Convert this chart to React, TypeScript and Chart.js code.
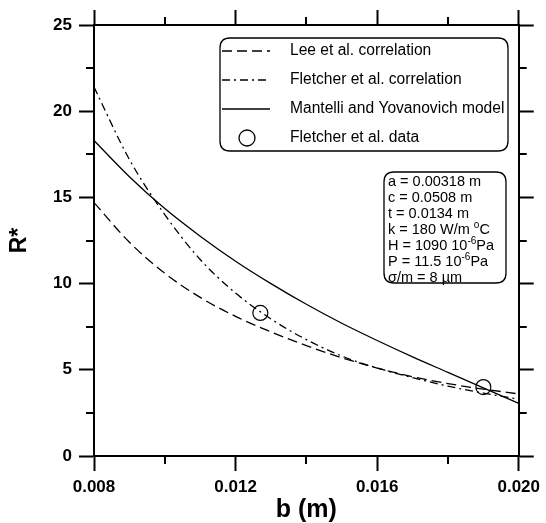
import { useEffect, useRef } from 'react';
import { Chart, registerables } from 'chart.js';

Chart.register(...registerables);

// ---- data ----
const bValues = [0.008, 0.009, 0.010, 0.011, 0.012, 0.013, 0.014, 0.015, 0.016, 0.017, 0.018, 0.019, 0.020];
const leeValues = [14.7, 12.4, 10.6, 9.2, 8.1, 7.2, 6.4, 5.7, 5.1, 4.6, 4.2, 3.88, 3.6];
const fletcherCorrValues = [21.4, 17.2, 14.0, 11.4, 9.45, 7.95, 6.75, 5.8, 5.1, 4.55, 4.05, 3.65, 3.3];
const mantelliValues = [18.3, 16.2, 14.35, 12.75, 11.3, 10.0, 8.8, 7.7, 6.7, 5.75, 4.85, 3.95, 3.05];
const fletcherDataB = [0.0127, 0.0190];
const fletcherDataR = [8.3, 4.0];

const xMajorTicks = [0.008, 0.012, 0.016, 0.020];
const xMinorTicks = [0.010, 0.014, 0.018];
const yMajorTicks = [0, 5, 10, 15, 20, 25];
const yMinorTicks = [2.5, 7.5, 12.5, 17.5, 22.5];

const legendLabels = [
  'Lee et al. correlation',
  'Fletcher et al. correlation',
  'Mantelli and Yovanovich model',
  'Fletcher et al. data',
];

type Seg = { t: string; sup?: boolean };
const infoLines: Seg[][] = [
  [{ t: 'a = 0.00318 m' }],
  [{ t: 'c = 0.0508 m' }],
  [{ t: 't = 0.0134 m' }],
  [{ t: 'k = 180 W/m ' }, { t: 'o', sup: true }, { t: 'C' }],
  [{ t: 'H = 1090 10' }, { t: '-6', sup: true }, { t: 'Pa' }],
  [{ t: 'P = 11.5 10' }, { t: '-6', sup: true }, { t: 'Pa' }],
  [{ t: 'σ/m = 8 µm' }],
];

const FAMILY = "'Liberation Sans', Arial, Helvetica, sans-serif";
const DASH_LEE = [10, 5];
const DASH_FLETCHER = [8, 4, 2, 4];

function roundRect(ctx: CanvasRenderingContext2D, x: number, y: number, w: number, h: number, r: number) {
  ctx.beginPath();
  ctx.moveTo(x + r, y);
  ctx.lineTo(x + w - r, y);
  ctx.quadraticCurveTo(x + w, y, x + w, y + r);
  ctx.lineTo(x + w, y + h - r);
  ctx.quadraticCurveTo(x + w, y + h, x + w - r, y + h);
  ctx.lineTo(x + r, y + h);
  ctx.quadraticCurveTo(x, y + h, x, y + h - r);
  ctx.lineTo(x, y + r);
  ctx.quadraticCurveTo(x, y, x + r, y);
  ctx.closePath();
}

const decorPlugin = {
  id: 'decor',
  afterDraw(chart: any) {
    const ctx: CanvasRenderingContext2D = chart.ctx;
    const area = chart.chartArea;
    const xs = chart.scales.x;
    const ys = chart.scales.y;
    ctx.save();
    // minor ticks, outward on all four sides
    ctx.strokeStyle = '#000';
    ctx.lineWidth = 2;
    ctx.setLineDash([]);
    ctx.beginPath();
    for (const v of xMinorTicks) {
      const px = Math.round(xs.getPixelForValue(v));
      ctx.moveTo(px, area.bottom);
      ctx.lineTo(px, area.bottom + 8);
      ctx.moveTo(px, area.top);
      ctx.lineTo(px, area.top - 8);
    }
    for (const v of yMinorTicks) {
      const py = Math.round(ys.getPixelForValue(v));
      ctx.moveTo(area.left, py);
      ctx.lineTo(area.left - 8, py);
      ctx.moveTo(area.right, py);
      ctx.lineTo(area.right + 8, py);
    }
    ctx.stroke();

    // legend box
    ctx.lineWidth = 1.3;
    roundRect(ctx, 220, 38, 288, 113, 10);
    ctx.fillStyle = '#fff';
    ctx.fill();
    ctx.stroke();
    const rowY = [51, 80, 109, 138];
    const dashes = [DASH_LEE, DASH_FLETCHER, [], null];
    ctx.font = `15.6px ${FAMILY}`;
    ctx.textBaseline = 'middle';
    ctx.textAlign = 'left';
    ctx.fillStyle = '#000';
    for (let i = 0; i < legendLabels.length; i++) {
      const yy = rowY[i];
      const d = dashes[i];
      ctx.lineWidth = 1.3;
      if (d) {
        ctx.setLineDash(d);
        ctx.beginPath();
        ctx.moveTo(222, yy);
        ctx.lineTo(270, yy);
        ctx.stroke();
      } else {
        ctx.setLineDash([]);
        ctx.beginPath();
        ctx.arc(247, yy, 8, 0, Math.PI * 2);
        ctx.stroke();
      }
      ctx.setLineDash([]);
      ctx.fillText(legendLabels[i], 290, yy);
    }

    // info box
    ctx.lineWidth = 1.3;
    roundRect(ctx, 384, 172, 122, 111, 10);
    ctx.fillStyle = '#fff';
    ctx.fill();
    ctx.stroke();
    ctx.fillStyle = '#000';
    for (let i = 0; i < infoLines.length; i++) {
      let xx = 388;
      const yy = 182 + 16 * i;
      for (const s of infoLines[i]) {
        if (s.sup) {
          ctx.font = `10px ${FAMILY}`;
          ctx.fillText(s.t, xx, yy - 5);
          xx += ctx.measureText(s.t).width;
        } else {
          ctx.font = `14.5px ${FAMILY}`;
          ctx.fillText(s.t, xx, yy);
          xx += ctx.measureText(s.t).width;
        }
      }
    }
    ctx.restore();
  },
};

export default function App() {
  const ref = useRef<HTMLCanvasElement | null>(null);

  useEffect(() => {
    if (!ref.current) return;
    const tickFont = { family: FAMILY, size: 17, weight: 'bold' as const };
    const grid = { drawOnChartArea: false, drawTicks: true, tickLength: 15, tickWidth: 2, tickColor: '#000' };
    const border = { display: true, color: '#000', width: 2 };
    const setX = (s: any) => { s.ticks = xMajorTicks.map((v) => ({ value: v })); };
    const setY = (s: any) => { s.ticks = yMajorTicks.map((v) => ({ value: v })); };

    const line = (vals: number[], dash: number[]) => ({
      type: 'line' as const,
      data: bValues.map((b, i) => ({ x: b, y: vals[i] })),
      borderColor: '#000',
      borderWidth: 1.3,
      borderDash: dash,
      pointRadius: 0,
      fill: false,
      cubicInterpolationMode: 'monotone' as const,
    });

    const chart = new Chart(ref.current, {
      type: 'line',
      data: {
        datasets: [
          { label: legendLabels[0], ...line(leeValues, DASH_LEE) },
          { label: legendLabels[1], ...line(fletcherCorrValues, DASH_FLETCHER) },
          { label: legendLabels[2], ...line(mantelliValues, []) },
          {
            label: legendLabels[3],
            type: 'line',
            data: fletcherDataB.map((b, i) => ({ x: b, y: fletcherDataR[i] })),
            showLine: false,
            pointRadius: 7.5,
            pointBorderWidth: 1.2,
            pointBorderColor: '#000',
            pointBackgroundColor: 'rgba(0,0,0,0)',
            pointStyle: 'circle',
          },
        ] as any,
      },
      options: {
        animation: false,
        responsive: false,
        layout: { padding: 0 },
        plugins: { legend: { display: false }, tooltip: { enabled: false } },
        scales: {
          x: {
            type: 'linear',
            position: 'bottom',
            min: 0.008,
            max: 0.02,
            afterBuildTicks: setX,
            afterFit: (s: any) => { s.height = 67; },
            ticks: {
              callback: (v: any) => Number(v).toFixed(3),
              font: tickFont,
              color: '#000',
              padding: 6,
              maxRotation: 0,
              autoSkip: false,
            },
            grid,
            border,
            title: {
              display: true,
              text: 'b (m)',
              color: '#000',
              font: { family: FAMILY, size: 25, weight: 'bold', lineHeight: 1 },
              padding: { top: 0, bottom: 0 },
            },
          },
          x2: {
            type: 'linear',
            position: 'top',
            min: 0.008,
            max: 0.02,
            afterBuildTicks: setX,
            afterFit: (s: any) => { s.height = 25; },
            ticks: { display: false },
            grid,
            border,
          },
          y: {
            type: 'linear',
            position: 'left',
            min: 0,
            max: 25,
            afterBuildTicks: setY,
            afterFit: (s: any) => { s.width = 94; },
            ticks: {
              callback: (v: any) => String(v),
              font: tickFont,
              color: '#000',
              padding: 7,
              autoSkip: false,
            },
            grid,
            border,
            title: {
              display: true,
              text: 'R*',
              color: '#000',
              font: { family: FAMILY, size: 23, weight: 'bold', lineHeight: 1 },
              padding: { top: 8, bottom: 0 },
            },
          },
          y2: {
            type: 'linear',
            position: 'right',
            min: 0,
            max: 25,
            afterBuildTicks: setY,
            afterFit: (s: any) => { s.width = 23.5; },
            ticks: { display: false },
            grid,
            border,
          },
        },
      } as any,
      plugins: [decorPlugin],
    });
    return () => chart.destroy();
  }, []);

  return (
    <div style={{ position: 'absolute', left: 0, top: 0, width: 546, height: 523, background: '#fff' }}>
      <canvas ref={ref} width={546} height={523} style={{ display: 'block', width: 546, height: 523 }} />
    </div>
  );
}
